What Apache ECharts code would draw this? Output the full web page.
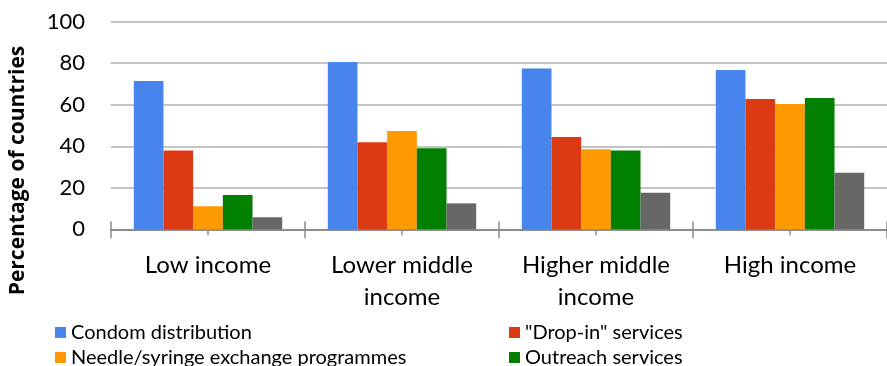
<!DOCTYPE html>
<html>
<head>
<meta charset="utf-8">
<script src="https://cdn.jsdelivr.net/npm/echarts@6/dist/echarts.min.js"></script>
<style>
  html, body { margin: 0; padding: 0; background: #fff; }
  #chart { width: 887px; height: 366px; }
</style>
</head>
<body>
<div id="chart"></div>
<script>
// Income groups along the x axis
const categories = ['Low income', 'Lower middle\nincome', 'Higher middle\nincome', 'High income'];

// Share of countries (%) offering each service
const condomDistribution = [71.4, 80.6, 77.4, 76.7];
const dropInServices     = [38.0, 41.9, 44.5, 62.8];
const needleExchange     = [11.1, 47.4, 38.5, 60.4];
const outreachServices   = [16.5, 39.0, 37.9, 63.2];
const otherServices      = [5.8, 12.5, 17.6, 27.3];

// Value axis ticks
const yTicks = { min: 0, max: 100, interval: 20 };

const FONT = 'Lato, Carlito, "Open Sans", sans-serif';

const chart = echarts.init(document.getElementById('chart'), null, { renderer: 'canvas' });

// Extra category axes that only draw tick marks (boundary and centre, above and below the baseline)
function tickAxis(alignWithLabel, inside, length) {
  return {
    type: 'category',
    data: categories,
    position: 'bottom',
    axisLine: { show: false },
    axisLabel: { show: false },
    axisTick: {
      show: true, alignWithLabel: alignWithLabel, inside: inside, length: length,
      lineStyle: { color: '#8c8c8c', width: 1.5 }
    },
    splitLine: { show: false }
  };
}

function legendColumn(names, left) {
  return {
    data: names,
    orient: 'vertical', left: left, top: 322.5, height: 60,
    itemWidth: 11, itemHeight: 11, itemGap: 5, icon: 'rect',
    padding: 0,
    textStyle: { fontFamily: FONT, fontSize: 20, lineHeight: 20, color: '#000' },
    selectedMode: false
  };
}

const option = {
  backgroundColor: '#ffffff',
  animation: false,
  textStyle: { fontFamily: FONT },
  grid: { left: 108, top: 21.7, width: 784, height: 207.6, containLabel: false },
  legend: [
    legendColumn(['Condom distribution', 'Needle/syringe exchange programmes'], 55),
    legendColumn(['"Drop-in" services', 'Outreach services'], 509)
  ],
  xAxis: [
    {
      type: 'category',
      data: categories,
      position: 'bottom',
      axisLine: { show: true, lineStyle: { color: '#8c8c8c', width: 2 } },
      axisTick: { show: true, inside: false, length: 9, lineStyle: { color: '#8c8c8c', width: 1.5 } },
      axisLabel: { fontFamily: FONT, fontSize: 24, lineHeight: 32, color: '#000', margin: 20, interval: 0 },
      splitLine: { show: false }
    },
    tickAxis(false, true, 8),
    tickAxis(true, false, 6),
    tickAxis(true, true, 6)
  ],
  yAxis: {
    type: 'value',
    min: yTicks.min, max: yTicks.max, interval: yTicks.interval,
    name: 'Percentage of countries',
    nameLocation: 'middle',
    nameRotate: 90,
    nameGap: 82,
    nameTextStyle: {
      fontFamily: '"Open Sans", sans-serif', fontSize: 21, fontWeight: 'bold', color: '#000',
      padding: [0, 90, 0, 0]
    },
    axisLine: { show: false },
    axisTick: { show: false },
    axisLabel: { fontFamily: FONT, fontSize: 22, color: '#000', margin: 26 },
    splitLine: { show: true, lineStyle: { color: '#c4c4c4', width: 2 } }
  },
  series: [
    { name: 'Condom distribution', type: 'bar', data: condomDistribution, itemStyle: { color: '#4785ec' }, barGap: '0%', barCategoryGap: '23.5%' },
    { name: '"Drop-in" services', type: 'bar', data: dropInServices, itemStyle: { color: '#dc3a12' } },
    { name: 'Needle/syringe exchange programmes', type: 'bar', data: needleExchange, itemStyle: { color: '#fe9900' } },
    { name: 'Outreach services', type: 'bar', data: outreachServices, itemStyle: { color: '#007f00' } },
    { name: 'Other services', type: 'bar', data: otherServices, itemStyle: { color: '#676767' } }
  ]
};

chart.setOption(option);
</script>
</body>
</html>
